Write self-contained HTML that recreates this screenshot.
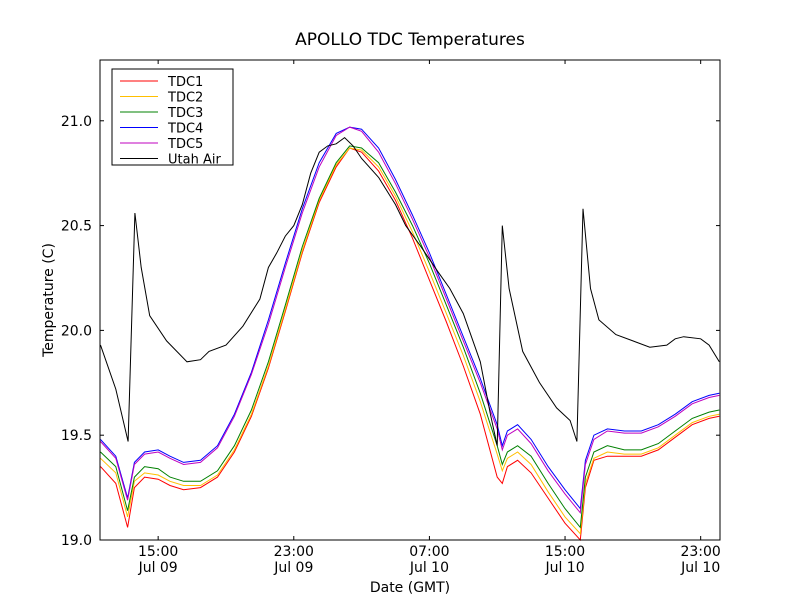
<!DOCTYPE html>
<html><head><meta charset="utf-8"><style>
body{margin:0;background:#fff;}
svg{display:block;font-family:"DejaVu Sans","Liberation Sans",sans-serif;}
</style></head><body>
<svg id="chart" width="800" height="600">
<rect width="800" height="600" fill="#fff"/>
<text x="410" y="45" text-anchor="middle" font-size="17">APOLLO TDC Temperatures</text>
<text x="410" y="592" text-anchor="middle" font-size="14">Date (GMT)</text>
<text transform="translate(53,300) rotate(-90)" text-anchor="middle" font-size="14">Temperature (C)</text>
<g id="series"></g>
<g id="axes"></g>
<rect x="100" y="60" width="620" height="480" fill="none" stroke="#000" stroke-width="1"/>
<g id="legend"></g>
</svg>
<script>
const T=[11.6,12.5,13.2,13.6,14.2,15.0,15.7,16.5,17.5,18.5,19.5,20.5,21.5,22.5,23.5,24.5,25.5,26.3,27.0,28,29,30,31,32,33,34,35,35.3,35.6,36.2,37,38,39,39.9,40.2,40.7,41.5,42.5,43.5,44.5,45.5,46.5,47.5,48.1];
const tdc1=[19.35,19.27,19.06,19.25,19.3,19.29,19.26,19.24,19.25,19.3,19.42,19.59,19.82,20.09,20.37,20.61,20.78,20.87,20.85,20.76,20.62,20.44,20.24,20.04,19.83,19.6,19.3,19.27,19.35,19.38,19.32,19.2,19.08,19.0,19.25,19.38,19.4,19.4,19.4,19.43,19.49,19.55,19.58,19.59];
const tdc2=[19.39,19.32,19.11,19.28,19.32,19.31,19.28,19.26,19.26,19.31,19.43,19.6,19.83,20.1,20.38,20.62,20.79,20.87,20.86,20.78,20.64,20.47,20.28,20.08,19.88,19.66,19.41,19.33,19.39,19.42,19.36,19.23,19.11,19.03,19.27,19.39,19.42,19.41,19.41,19.44,19.5,19.56,19.59,19.6];
const tdc3=[19.42,19.35,19.14,19.3,19.35,19.34,19.3,19.28,19.28,19.33,19.45,19.62,19.85,20.12,20.4,20.63,20.8,20.88,20.87,20.8,20.66,20.5,20.32,20.12,19.92,19.7,19.45,19.36,19.42,19.45,19.4,19.27,19.15,19.06,19.3,19.42,19.45,19.43,19.43,19.46,19.52,19.58,19.61,19.62];
const tdc4=[19.48,19.4,19.2,19.37,19.42,19.43,19.4,19.37,19.38,19.45,19.6,19.8,20.05,20.32,20.58,20.8,20.94,20.97,20.96,20.87,20.72,20.55,20.37,20.17,19.97,19.77,19.55,19.45,19.52,19.55,19.48,19.35,19.24,19.15,19.38,19.5,19.53,19.52,19.52,19.55,19.6,19.66,19.69,19.7];
const tdc5=[19.47,19.39,19.19,19.36,19.41,19.42,19.39,19.36,19.37,19.44,19.59,19.79,20.03,20.3,20.56,20.78,20.93,20.97,20.95,20.85,20.7,20.53,20.35,20.15,19.95,19.75,19.53,19.43,19.5,19.53,19.46,19.33,19.22,19.13,19.36,19.48,19.52,19.51,19.51,19.54,19.59,19.65,19.68,19.69];
const airT=[11.6,12.5,13.23,13.63,14.0,14.5,15.5,16.7,17.5,18.0,19.0,20.0,21.0,21.5,22.0,22.5,23.0,23.5,24.0,24.5,25.0,25.5,26.0,26.5,27.0,28.0,29.0,29.6,30.5,31.5,32.2,33.0,34.0,34.6,35.0,35.3,35.7,36.5,37.5,38.5,39.3,39.7,40.06,40.5,41.0,42.0,43.0,44.0,45.0,45.5,46.0,47.0,47.5,48.1];
const air=[19.93,19.72,19.47,20.56,20.3,20.07,19.95,19.85,19.86,19.9,19.93,20.02,20.15,20.3,20.37,20.45,20.5,20.6,20.75,20.85,20.88,20.89,20.92,20.88,20.82,20.73,20.6,20.5,20.4,20.28,20.2,20.08,19.85,19.6,19.45,20.5,20.2,19.9,19.75,19.63,19.57,19.47,20.58,20.2,20.05,19.98,19.95,19.92,19.93,19.96,19.97,19.96,19.93,19.85];
const yTicks=[19.0,19.5,20.0,20.5,21.0];
const xTicks=[15,23,31,39,47];
const xTickLabels=[["15:00","Jul 09"],["23:00","Jul 09"],["07:00","Jul 10"],["15:00","Jul 10"],["23:00","Jul 10"]];
const names=["TDC1","TDC2","TDC3","TDC4","TDC5","Utah Air"];
const colors=["#ff0000","#ffbf00","#008000","#0000ff","#bf00bf","#000000"];

const NS="http://www.w3.org/2000/svg";
const x0=100,x1=720,y0=540,y1=60,tmin=11.57,tmax=48.14,vmin=19.0,vmax=21.29;
const sx=t=>x0+(t-tmin)/(tmax-tmin)*(x1-x0);
const sy=v=>y0-(v-vmin)/(vmax-vmin)*(y0-y1);
function el(tag,attrs,parent){const e=document.createElementNS(NS,tag);for(const k in attrs)e.setAttribute(k,attrs[k]);parent.appendChild(e);return e;}
const sg=document.getElementById('series');
const data=[[T,tdc1],[T,tdc2],[T,tdc3],[T,tdc4],[T,tdc5],[airT,air]];
data.forEach((d,i)=>{
  const pts=d[0].map((t,j)=>sx(t).toFixed(1)+","+sy(d[1][j]).toFixed(1)).join(" ");
  const p=el('polyline',{points:pts,fill:"none",stroke:colors[i],"stroke-width":"1"},sg);
  
  
});
const ag=document.getElementById('axes');
yTicks.forEach(v=>{
  const y=sy(v);
  el('line',{x1:x0,x2:x0+4,y1:y,y2:y,stroke:"#000"},ag);
  el('line',{x1:x1-4,x2:x1,y1:y,y2:y,stroke:"#000"},ag);
  const t=el('text',{x:x0-8,y:y+5,"text-anchor":"end","font-size":"14"},ag);
  t.textContent=v.toFixed(1);
  
  
});
xTicks.forEach((h,i)=>{
  const x=sx(h);
  el('line',{x1:x,x2:x,y1:y0,y2:y0-4,stroke:"#000"},ag);
  el('line',{x1:x,x2:x,y1:y1,y2:y1+4,stroke:"#000"},ag);
  const t=el('text',{x:x,y:y0+16,"text-anchor":"middle","font-size":"14"},ag);
  t.textContent=xTickLabels[i][0];
  
  
  const t2=el('text',{x:x,y:y0+32,"text-anchor":"middle","font-size":"14"},ag);
  t2.textContent=xTickLabels[i][1];
  
  
});
const lg=document.getElementById('legend');
el('rect',{x:112,y:69,width:121,height:96,fill:"#fff",stroke:"#000"},lg);
names.forEach((n,i)=>{
  const y=81+i*15.5;
  el('line',{x1:120,x2:158,y1:y,y2:y,stroke:colors[i]},lg);
  const t=el('text',{x:168,y:y+5,"font-size":"13"},lg);
  t.textContent=n;
  
  
});
</script>
</body></html>
